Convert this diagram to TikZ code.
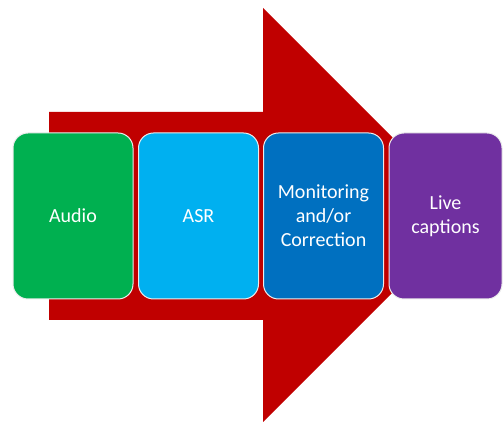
\documentclass[tikz,border=0pt]{standalone}
\usepackage{fontspec}
\setmainfont{Carlito}
\usepackage{tikz}

\definecolor{arrowred}{HTML}{C00000}
\definecolor{audiogreen}{HTML}{00B050}
\definecolor{asrblue}{HTML}{00B0F0}
\definecolor{monblue}{HTML}{0070C0}
\definecolor{cappurple}{HTML}{7030A0}

\begin{document}
\begin{tikzpicture}[x=1pt,y=1pt]

        \useasboundingbox (0,0) rectangle (503,422);

        % big arrow behind the boxes
        \fill[arrowred] (49,102) -- (263,102) -- (263,0) -- (470,207)
          -- (263,414) -- (263,310) -- (49,310) -- cycle;

        \begin{scope}[every node/.style={rectangle, rounded corners=15pt, draw=white!85!gray,
            line width=1pt, text=white, align=center, minimum height=166pt,
            font=\fontsize{20}{24}\selectfont}]
          \node[fill=audiogreen, minimum width=120pt] (audio)    at (73,206)    {Audio};
          \node[fill=asrblue, minimum width=120pt]    (asr)      at (198.5,206) {ASR};
          \node[fill=monblue, minimum width=120pt]    (monitor)  at (323.5,206) {Monitoring\\and/or\\Correction};
          \node[fill=cappurple, minimum width=113pt]  (captions) at (445.5,206) {Live\\captions};
        \end{scope}

      \end{tikzpicture}
\end{document}
